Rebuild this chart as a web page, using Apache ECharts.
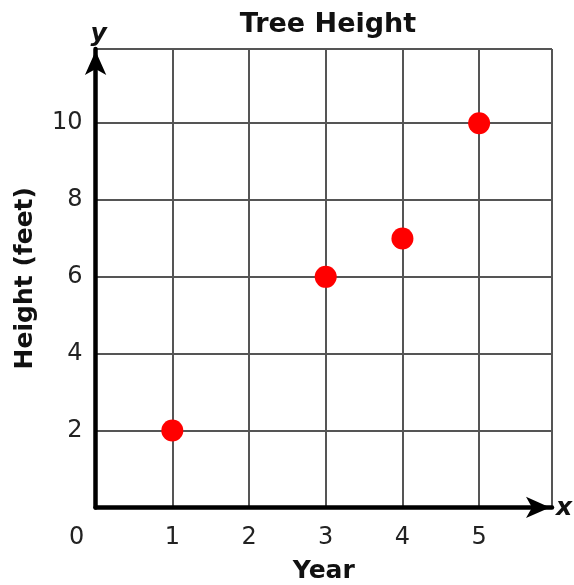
<!DOCTYPE html>
<html>
<head>
<meta charset="utf-8">
<script src="https://cdn.jsdelivr.net/npm/echarts@6/dist/echarts.min.js"></script>
<style>html,body{margin:0;padding:0;background:#fff}#c{width:574px;height:585px}</style>
</head>
<body>
<div id="c"></div>
<script>
var title = 'Tree Height';
var xName = 'Year';
var yName = 'Height (feet)';
var years = [1, 3, 4, 5];
var heights = [2, 6, 7, 10];
var xTicks = [0, 1, 2, 3, 4, 5];
var yTicks = [2, 4, 6, 8, 10];

var chart = echarts.init(document.getElementById('c'), null, {renderer: 'canvas'});
var font = 'DejaVu Sans';
var data = years.map(function (x, i) { return [x, heights[i]]; });

chart.setOption({
  animation: false,
  backgroundColor: '#fff',
  title: {
    text: title, left: 323, top: 6, textAlign: 'center',
    textStyle: {fontFamily: font, fontWeight: 'bold', fontSize: 27, color: '#111'}
  },
  grid: {left: 95.6, right: 22, top: 49, bottom: 77.6, containLabel: false, outerBoundsMode: 'none'},
  xAxis: {
    type: 'value', min: 0, max: 5.95, interval: 1,
    name: xName, nameLocation: 'middle', nameGap: 52,
    nameTextStyle: {fontFamily: font, fontWeight: 'bold', fontSize: 25, color: '#111'},
    axisLine: {show: true, onZero: false, symbol: ['none', 'arrow'], symbolSize: [16, 24], symbolOffset: [0, -2],
      lineStyle: {color: '#000', width: 4.5}},
    axisTick: {show: false},
    splitLine: {show: true, lineStyle: {color: '#555', width: 2}},
    axisLabel: {
      margin: 18, fontFamily: font, fontSize: 24, color: '#222',
      formatter: function (v) {
        if (xTicks.indexOf(v) < 0) return '';
        if (v === 0) return '{o|0}';
        return String(v);
      },
      rich: {o: {fontFamily: font, fontSize: 24, color: '#222', padding: [0, 38, 0, 0]}}
    }
  },
  yAxis: {
    type: 'value', min: 0, max: 11.93, interval: 2,
    name: yName, nameLocation: 'middle', nameGap: 58, nameRotate: 90,
    nameTextStyle: {fontFamily: font, fontWeight: 'bold', fontSize: 25, color: '#111'},
    axisLine: {show: true, onZero: false, symbol: ['none', 'arrow'], symbolSize: [16, 24], symbolOffset: [0, -2],
      lineStyle: {color: '#000', width: 4.5}},
    axisTick: {show: false},
    splitLine: {show: true, lineStyle: {color: '#555', width: 2}},
    axisLabel: {
      margin: 13, fontFamily: font, fontSize: 24, color: '#222',
      formatter: function (v) { return yTicks.indexOf(v) >= 0 ? String(v) : ''; }
    }
  },
  series: [{
    type: 'scatter', data: data, symbol: 'circle', symbolSize: 22,
    itemStyle: {color: '#ff0000', opacity: 1}, z: 5
  }]
});

var xEnd = chart.convertToPixel({xAxisIndex: 0}, 5.95);
var yEnd = chart.convertToPixel({yAxisIndex: 0}, 11.93);
var x0 = chart.convertToPixel({xAxisIndex: 0}, 0);
var y0 = chart.convertToPixel({yAxisIndex: 0}, 0);
chart.setOption({
  graphic: [
    {type: 'text', x: xEnd + 4, y: y0 + 1, style: {text: 'x', font: 'italic bold 25px "DejaVu Sans"', fill: '#111', textVerticalAlign: 'middle'}},
    {type: 'text', x: x0 + 3, y: yEnd - 15, style: {text: 'y', font: 'italic bold 25px "DejaVu Sans"', fill: '#111', textAlign: 'center', textVerticalAlign: 'middle'}}
  ]
});
</script>
</body>
</html>
